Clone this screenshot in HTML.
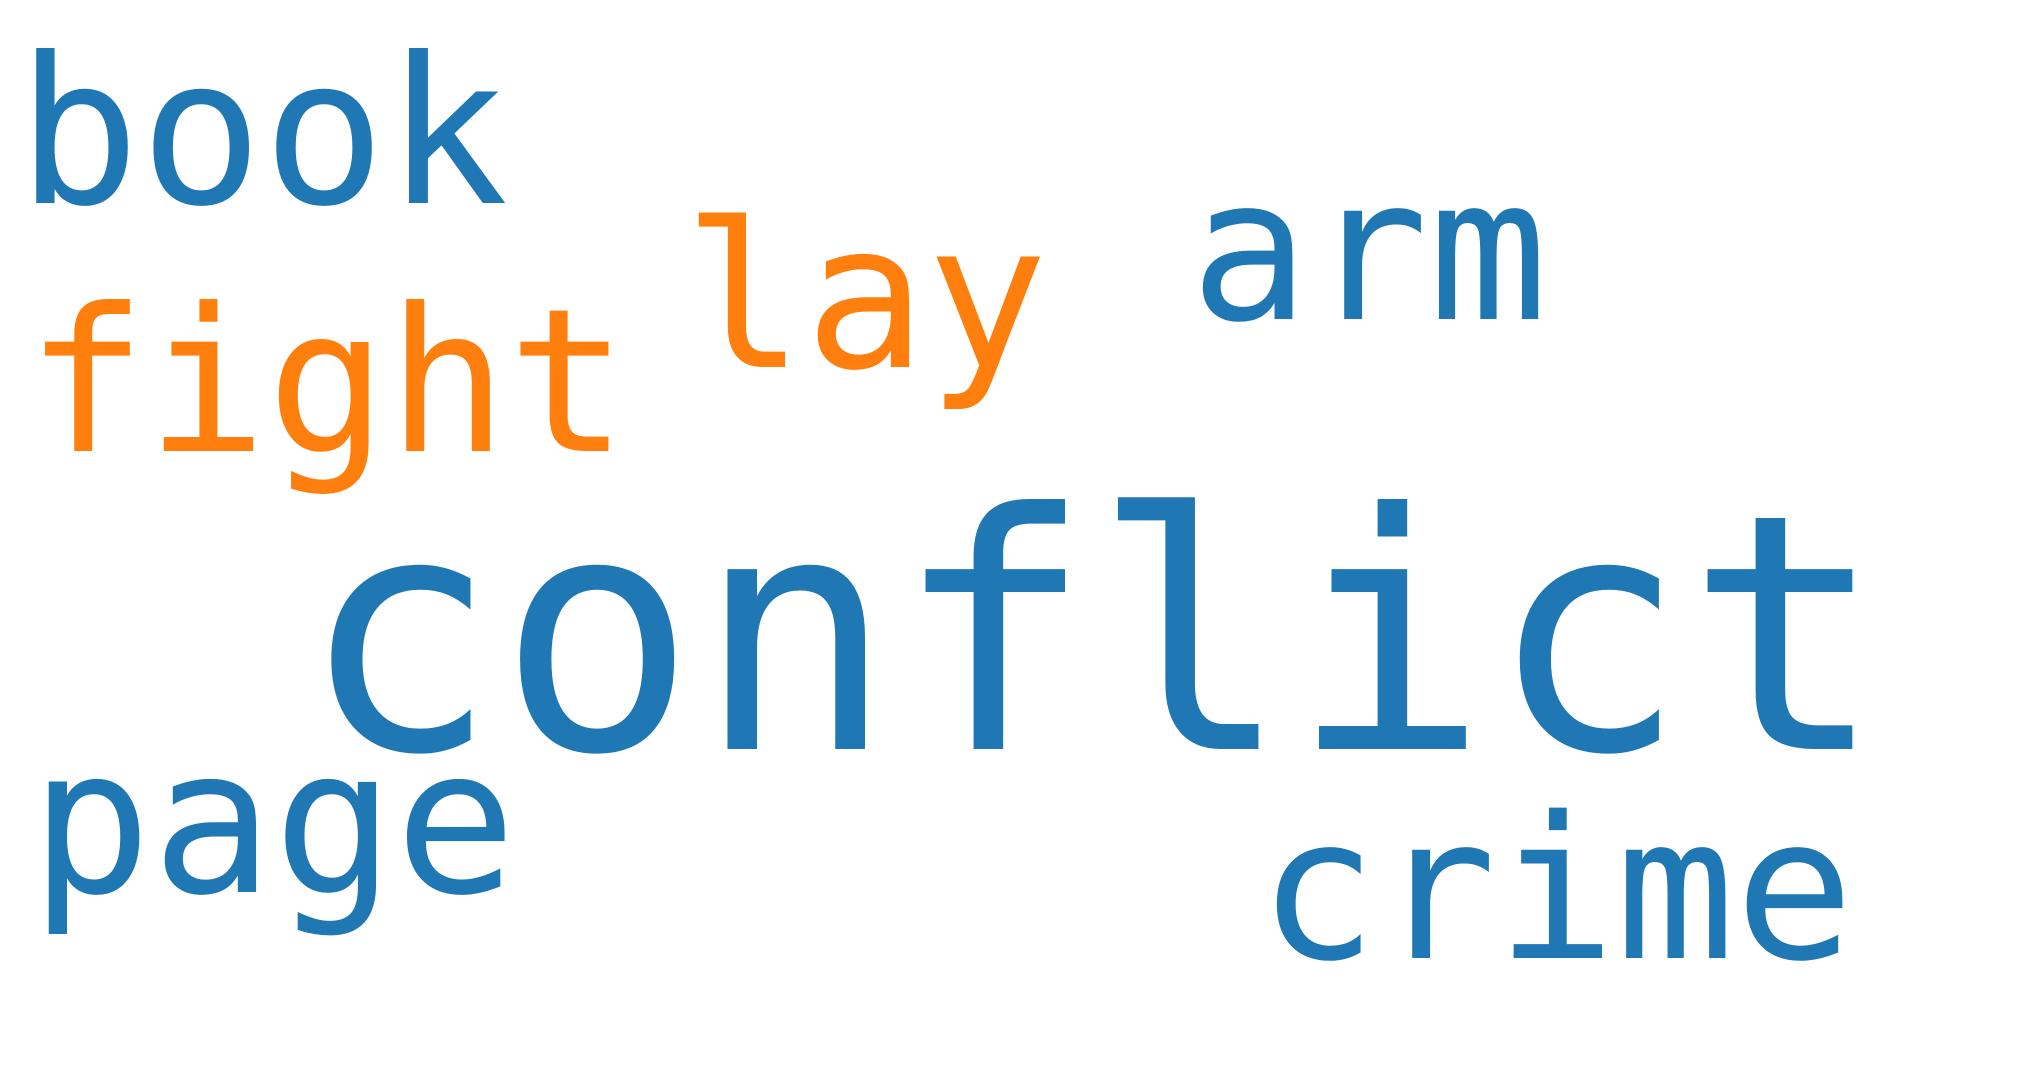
<!DOCTYPE html>
<html>
<head>
<meta charset="utf-8">
<style>
html,body{margin:0;padding:0;background:#fff;}
svg{display:block;}
text{font-family:"DejaVu Sans Mono","Liberation Mono",monospace;}
</style>
</head>
<body>
<svg width="2040" height="1080" viewBox="0 0 2040 1080" xmlns="http://www.w3.org/2000/svg">
<rect width="2040" height="1080" fill="#fff"/>
<text x="17" y="203" font-size="204" fill="#1f77b4">book</text>
<text x="26" y="451" font-size="200" fill="#ff7f0e">fight</text>
<text x="683" y="367" font-size="202" fill="#ff7f0e">lay</text>
<text x="1190" y="319" font-size="198" fill="#1f77b4">arm</text>
<text x="300" y="749" font-size="329" fill="#1f77b4">conflict</text>
<text x="30" y="892" font-size="202" fill="#1f77b4">page</text>
<text x="1258" y="958" font-size="198" fill="#1f77b4">crime</text>
</svg>
</body>
</html>
